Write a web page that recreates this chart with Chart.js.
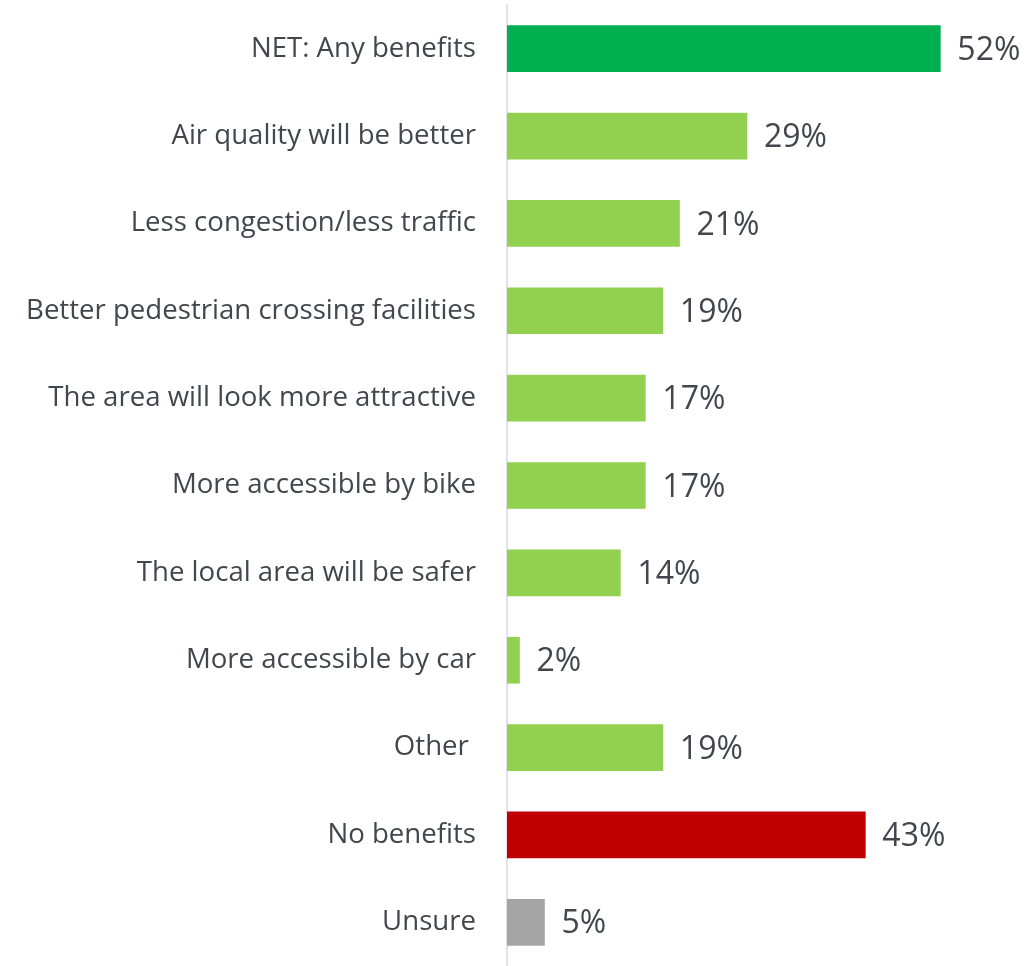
<!DOCTYPE html>
<html>
<head>
<meta charset="utf-8">
<script src="https://cdn.jsdelivr.net/npm/chart.js@4/dist/chart.umd.min.js"></script>
<style>
html,body{margin:0;padding:0;background:#fff;}
#wrap{width:1030px;height:966px;}
</style>
</head>
<body>
<div id="wrap"><canvas id="c" width="1030" height="966"></canvas></div>
<script>
const categories = ["NET: Any benefits","Air quality will be better","Less congestion/less traffic","Better pedestrian crossing facilities","The area will look more attractive","More accessible by bike","The local area will be safer","More accessible by car","Other ","No benefits","Unsure"];
const values = [52, 28.8, 20.7, 18.7, 16.6, 16.6, 13.6, 1.5, 18.7, 43, 4.5];
const valueLabels = ["52%","29%","21%","19%","17%","17%","14%","2%","19%","43%","5%"];
const barColors = ["#00B050","#92D050","#92D050","#92D050","#92D050","#92D050","#92D050","#92D050","#92D050","#C00000","#A5A5A5"];

const labelPlugin = {
  id: 'valueLabels',
  afterDatasetsDraw(chart) {
    const ctx = chart.ctx;
    const meta = chart.getDatasetMeta(0);
    ctx.save();
    ctx.font = '32px "Open Sans", sans-serif';
    ctx.fillStyle = '#43464d';
    ctx.textAlign = 'left';
    ctx.textBaseline = 'middle';
    meta.data.forEach((bar, i) => {
      ctx.fillText(valueLabels[i], bar.x + 17, bar.y + 2);
    });
    ctx.restore();
  }
};

new Chart(document.getElementById('c'), {
  type: 'bar',
  data: {
    labels: categories,
    datasets: [{
      data: values,
      backgroundColor: barColors,
      barThickness: 46,
      borderWidth: 0
    }]
  },
  options: {
    indexAxis: 'y',
    responsive: false,
    animation: false,
    layout: { padding: { top: 5, bottom: 0, left: 0, right: 23 } },
    plugins: { legend: { display: false }, tooltip: { enabled: false } },
    scales: {
      x: { display: false, min: 0, max: 60 },
      y: {
        grid: { display: false, drawTicks: false },
        border: { display: true, color: '#e2e2ea', width: 2 },
        ticks: {
          color: '#43464d',
          padding: 31,
          font: { family: '"Open Sans", sans-serif', size: 27.6 }
        },
        afterFit(scale) { scale.paddingTop = 0; scale.paddingBottom = 0; scale.width = 507; }
      }
    }
  },
  plugins: [labelPlugin]
});
</script>
</body>
</html>
